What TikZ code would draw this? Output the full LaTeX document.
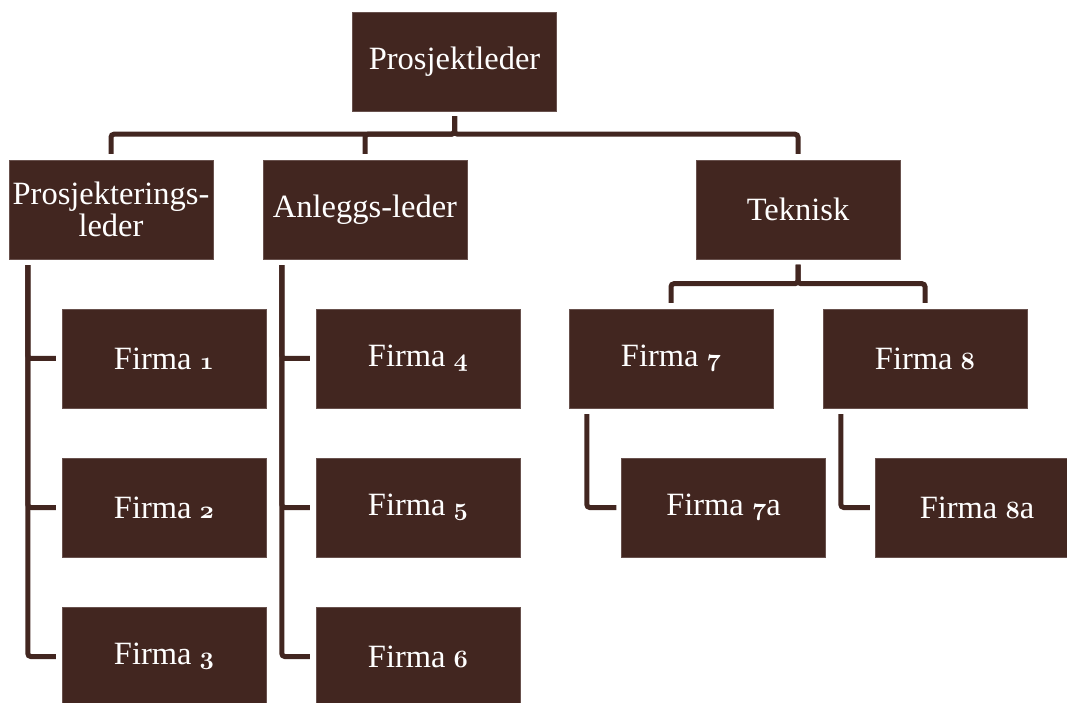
\documentclass[tikz,border=0pt]{standalone}
\usepackage{fontspec}
\setmainfont{Liberation Serif}
\newcommand\osn[1]{{\fontsize{36}{32}\usefont{OML}{cmm}{b}{it}#1}}
\definecolor{boxbrown}{RGB}{66,38,32}
\tikzset{
  orgbox/.style={fill=boxbrown, draw=boxbrown!80!white, line width=0.4pt, text=white,
    minimum width=204pt, minimum height=99pt, inner sep=0pt, align=center,
    font=\fontsize{32.5}{32}\selectfont},
  conn/.style={draw=boxbrown, line width=5pt, rounded corners=3pt}
}
\begin{document}
\begin{tikzpicture}[x=1pt,y=1pt]
\useasboundingbox (0,0) rectangle (1067,702);
\begin{scope}
\clip (0,0) rectangle (1067,702);
\node[orgbox] (pl) at (454.5,640.5) {Prosjektleder};
\node[orgbox] (pr) at (111,492.5) {Prosjekterings-\\leder};
\node[orgbox] (an) at (365,492.5) {Anleggs-leder};
\node[orgbox] (te) at (798,492.5) {Teknisk};
\node[orgbox] (f1) at (164,343.5) {Firma \osn{1}};
\node[orgbox] (f2) at (164,194.5) {Firma \osn{2}};
\node[orgbox] (f3) at (164,45.5) {Firma \osn{3}};
\node[orgbox] (f4) at (418,343.5) {Firma \osn{4}};
\node[orgbox] (f5) at (418,194.5) {Firma \osn{5}};
\node[orgbox] (f6) at (418,45.5) {Firma \osn{6}};
\node[orgbox] (f7) at (671,343.5) {Firma \osn{7}};
\node[orgbox] (f8) at (925,343.5) {Firma \osn{8}};
\node[orgbox] (f7a) at (723.5,194.5) {Firma \osn{7}a};
\node[orgbox] (f8a) at (977,194.5) {Firma \osn{8}a};
% top level connectors
\foreach \c in {pr,an,te}
  \draw[conn] ([yshift=-5pt]pl.south) -- ++(0,-18) -| ([yshift=6pt]\c.north);
% Teknisk connectors
\foreach \c in {f7,f8}
  \draw[conn] ([yshift=-5.5pt]te.south) -- ++(0,-19) -| ([yshift=6pt]\c.north);
% side connectors
\foreach \c in {f1,f2,f3}
  \draw[conn] ([xshift=19pt,yshift=-6pt]pr.south west) |- ([xshift=-6pt]\c.west);
\foreach \c in {f4,f5,f6}
  \draw[conn] ([xshift=19pt,yshift=-6pt]an.south west) |- ([xshift=-6pt]\c.west);
\draw[conn] ([xshift=18pt,yshift=-6pt]f7.south west) |- ([xshift=-5pt]f7a.west);
\draw[conn] ([xshift=18pt,yshift=-6pt]f8.south west) |- ([xshift=-5pt]f8a.west);
\end{scope}
\end{tikzpicture}
\end{document}
